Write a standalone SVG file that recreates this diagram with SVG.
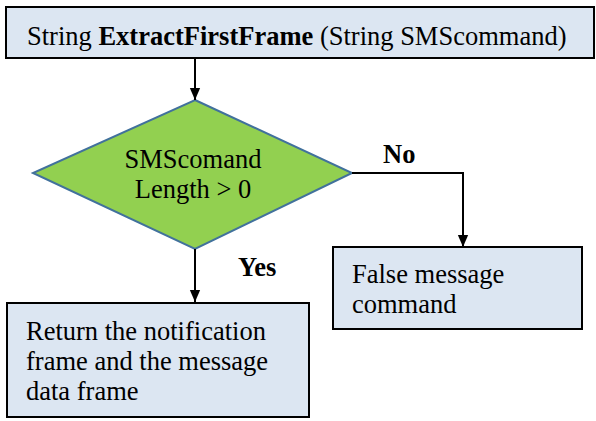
<svg xmlns="http://www.w3.org/2000/svg" width="596" height="421" viewBox="0 0 596 421">
<style>
.box{fill:#dce6f2;stroke:#000;stroke-width:2}
.t{font-family:'Liberation Serif','Times New Roman',serif;font-size:26.5px;fill:#000}
.b{font-weight:bold}
.c{fill:none;stroke:#000;stroke-width:2}
</style>
<defs>
<marker id="arr" markerWidth="12" markerHeight="14" refX="14" refY="6" orient="auto" markerUnits="userSpaceOnUse" viewBox="0 0 14 12">
<path d="M0,0 L14,6 L0,12 Z" fill="#000"/>
</marker>
</defs>
<rect width="596" height="421" fill="#fff"/>
<g id="start">
<rect class="box" x="6" y="7" width="588" height="51"/>
<text class="t" x="27" y="45">String <tspan class="b">ExtractFirstFrame</tspan> (String SMScommand)</text>
</g>
<g id="decision">
<polygon points="195,100 352,173 195,249 33,173" fill="#92d050" stroke="#41719c" stroke-width="2"/>
<text class="t" x="193" y="168" text-anchor="middle">SMScomand</text>
<text class="t" x="193" y="198" text-anchor="middle">Length &gt; 0</text>
</g>
<g id="false">
<rect class="box" x="333" y="247" width="249" height="82"/>
<text class="t" x="352" y="283">False message</text>
<text class="t" x="352" y="313">command</text>
</g>
<g id="return">
<rect class="box" x="7" y="303" width="302" height="114"/>
<text class="t" x="26" y="340">Return the notification</text>
<text class="t" x="26" y="370">frame and the message</text>
<text class="t" x="26" y="400">data frame</text>
</g>
<g id="connectors">
<line class="c" x1="195" y1="58" x2="195" y2="100" marker-end="url(#arr)"/>
<polyline class="c" points="352,173 463,173 463,247" marker-end="url(#arr)"/>
<line class="c" x1="195" y1="249" x2="195" y2="302" marker-end="url(#arr)"/>
<text class="t b" x="383" y="163">No</text>
<text class="t b" x="238" y="276">Yes</text>
</g>
</svg>
